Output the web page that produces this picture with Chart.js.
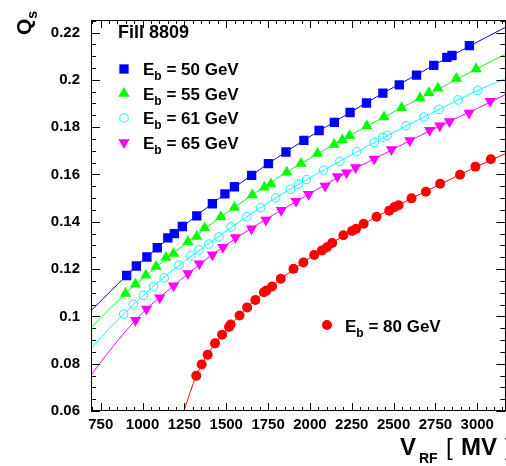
<!DOCTYPE html>
<html>
<head>
<meta charset="utf-8">
<script src="https://cdn.jsdelivr.net/npm/chart.js@4/dist/chart.umd.min.js"></script>
<style>
  html, body { margin: 0; padding: 0; background: #fff; overflow: hidden; }
  #wrap { width: 512px; height: 466px; }
  canvas { display: block; }
</style>
</head>
<body>
<div id="wrap"><canvas id="qsChart" width="512" height="466"></canvas></div>
<script>
// beam energies (GeV) for the five scans
const energies = [50, 55, 61, 65, 80];

// measured points: V_RF [MV] and Q_s
const v50  = [905, 963, 1026, 1088, 1151, 1190, 1238, 1324, 1417, 1492, 1549, 1652, 1752, 1857, 1964, 2055, 2146, 2240, 2338, 2436, 2534, 2637, 2740, 2818, 2849, 2953];
const qs50 = [0.1173, 0.1213, 0.1251, 0.1290, 0.1332, 0.1350, 0.1380, 0.1425, 0.1476, 0.1518, 0.1548, 0.1596, 0.1646, 0.1695, 0.1744, 0.1786, 0.1820, 0.1862, 0.1902, 0.1944, 0.1979, 0.2020, 0.2061, 0.2095, 0.2103, 0.2145];

const v55  = [898, 957, 1020, 1081, 1140, 1185, 1271, 1324, 1371, 1468, 1549, 1656, 1728, 1767, 1862, 1947, 2045, 2145, 2194, 2237, 2340, 2443, 2548, 2658, 2711, 2765, 2875, 2993];
const qs55 = [0.1097, 0.1136, 0.1174, 0.1211, 0.1249, 0.1266, 0.1315, 0.1338, 0.1374, 0.1421, 0.1460, 0.1513, 0.1546, 0.1560, 0.1609, 0.1646, 0.1689, 0.1727, 0.1746, 0.1764, 0.1805, 0.1843, 0.1882, 0.1923, 0.1945, 0.1964, 0.2006, 0.2046];

const v61  = [887, 945, 1005, 1065, 1129, 1218, 1287, 1337, 1395, 1457, 1529, 1623, 1706, 1795, 1883, 1931, 1980, 2082, 2179, 2278, 2384, 2436, 2462, 2574, 2682, 2771, 2886, 3003];
const qs61 = [0.1010, 0.1052, 0.1089, 0.1126, 0.1163, 0.1217, 0.1256, 0.1281, 0.1306, 0.1336, 0.1378, 0.1421, 0.1460, 0.1501, 0.1537, 0.1559, 0.1578, 0.1619, 0.1655, 0.1697, 0.1735, 0.1757, 0.1765, 0.1806, 0.1843, 0.1875, 0.1915, 0.1956];

const v65  = [958, 1024, 1103, 1185, 1271, 1339, 1417, 1480, 1555, 1651, 1737, 1829, 1917, 1992, 2091, 2164, 2219, 2273, 2384, 2487, 2597, 2715, 2776, 2834, 2951, 3077];
const qs65 = [0.0984, 0.1031, 0.1079, 0.1130, 0.1181, 0.1222, 0.1261, 0.1292, 0.1333, 0.1370, 0.1408, 0.1449, 0.1487, 0.1516, 0.1551, 0.1591, 0.1607, 0.1629, 0.1665, 0.1705, 0.1744, 0.1787, 0.1806, 0.1824, 0.1860, 0.1910];

const v80  = [1321, 1353, 1389, 1433, 1475, 1517, 1526, 1580, 1625, 1674, 1725, 1740, 1774, 1826, 1902, 1961, 2026, 2072, 2102, 2133, 2200, 2252, 2276, 2321, 2398, 2474, 2505, 2530, 2607, 2693, 2778, 2897, 2989, 3081];
const qs80 = [0.0749, 0.0797, 0.0838, 0.0886, 0.0922, 0.0955, 0.0966, 0.1004, 0.1038, 0.1069, 0.1102, 0.1109, 0.1126, 0.1159, 0.1201, 0.1228, 0.1260, 0.1279, 0.1292, 0.1310, 0.1343, 0.1361, 0.1370, 0.1392, 0.1421, 0.1447, 0.1462, 0.1470, 0.1499, 0.1527, 0.1561, 0.1599, 0.1633, 0.1664];

// fitted curves
const fitV  = [692, 800, 900, 1000, 1200, 1400, 1600, 1800, 2000, 2200, 2400, 2600, 2800, 3000, 3168];
const fit50 = [0.1024, 0.1100, 0.1170, 0.1235, 0.1357, 0.1468, 0.1571, 0.1669, 0.1760, 0.1845, 0.1929, 0.2007, 0.2085, 0.2160, 0.2222];
const fit55 = [0.0952, 0.1029, 0.1097, 0.1160, 0.1276, 0.1385, 0.1486, 0.1582, 0.1668, 0.1750, 0.1827, 0.1901, 0.1973, 0.2048, 0.2108];
const fit61 = [0.0864, 0.0948, 0.1018, 0.1086, 0.1206, 0.1310, 0.1410, 0.1503, 0.1586, 0.1664, 0.1741, 0.1814, 0.1885, 0.1955, 0.2005];
const fit65 = [0.0752, 0.0852, 0.0938, 0.1015, 0.1138, 0.1252, 0.1350, 0.1437, 0.1519, 0.1600, 0.1671, 0.1744, 0.1813, 0.1879, 0.1938];
const fitV80 = [1247, 1321, 1400, 1500, 1600, 1700, 1800, 1900, 2000, 2200, 2400, 2600, 2800, 3000, 3168];
const fit80  = [0.0600, 0.0749, 0.0852, 0.0942, 0.1019, 0.1086, 0.1143, 0.1198, 0.1248, 0.1341, 0.1422, 0.1496, 0.1566, 0.1634, 0.1688];

// axes
const xTicks = [750, 1000, 1250, 1500, 1750, 2000, 2250, 2500, 2750, 3000];
const yTicks = [0.06, 0.08, 0.1, 0.12, 0.14, 0.16, 0.18, 0.2, 0.22];
const xMinorStep = 50;
const yMinorStep = 0.005;

const FONT = '"Liberation Sans", Arial, Helvetica, sans-serif';

const series = [
    { e: 50, v: v50, q: qs50, fv: fitV,   fq: fit50, color: '#0000ff', style: 'rect',     r: 6.6, rot: 0,   open: false },
    { e: 55, v: v55, q: qs55, fv: fitV,   fq: fit55, color: '#00ff00', style: 'triangle', r: 6.5, rot: 0,   open: false },
    { e: 61, v: v61, q: qs61, fv: fitV,   fq: fit61, color: '#00ffff', style: 'circle',   r: 4.3, rot: 0,   open: true  },
    { e: 65, v: v65, q: qs65, fv: fitV,   fq: fit65, color: '#ff00ff', style: 'triangle', r: 6.5, rot: 180, open: false },
    { e: 80, v: v80, q: qs80, fv: fitV80, fq: fit80, color: '#ff0000', style: 'circle',   r: 5,   rot: 0,   open: false }
];

const toXY = (xs, ys) => xs.map((x, i) => ({ x: x, y: ys[i] }));

const pointSets = series.map(s => ({
    label: 'Eb = ' + s.e + ' GeV',
    data: toXY(s.v, s.q),
    showLine: false,
    pointStyle: s.style,
    pointRadius: s.r,
    pointRotation: s.rot,
    pointBackgroundColor: s.open ? 'rgba(0,0,0,0)' : s.color,
    pointBorderColor: s.color,
    pointBorderWidth: s.open ? 1 : 0
}));

const fitSets = series.map(s => ({
    label: 'fit ' + s.e,
    data: toXY(s.fv, s.fq),
    showLine: true,
    pointRadius: 0,
    borderColor: s.color,
    borderWidth: 1,
    cubicInterpolationMode: 'monotone'
}));

// draw text pieces; each piece may sit at its own x (p.x) or follow the previous one
function drawParts(ctx, x, y, parts) {
    let cx = x;
    parts.forEach(p => {
        ctx.font = (p.weight || 'bold') + ' ' + p.size + 'px ' + FONT;
        if (p.x !== undefined) cx = p.x;
        ctx.fillText(p.t, cx, y + (p.dy || 0));
        cx += ctx.measureText(p.t).width + (p.gap || 0);
    });
}

function ebText(e) {
    return [
        { t: 'E', size: 17 },
        { t: 'b', size: 12, dy: 5 },
        { t: ' = ' + e + ' GeV', size: 17 }
    ];
}

// ROOT style frame with inward ticks on all four sides
const frameTicks = {
    id: 'frameTicks',
    afterDatasetsDraw(chart) {
        const { ctx, chartArea: a, scales: { x, y } } = chart;
        ctx.save();
        ctx.strokeStyle = '#000';
        ctx.lineWidth = 1;
        ctx.strokeRect(Math.round(a.left) + 0.5, Math.round(a.top) + 0.5,
            Math.round(a.right - a.left), Math.round(a.bottom - a.top) - 1);
        ctx.beginPath();
        const x0 = Math.ceil(x.min / xMinorStep) * xMinorStep;
        for (let v = x0; v <= x.max; v += xMinorStep) {
            const px = Math.round(x.getPixelForValue(v)) + 0.5;
            const len = v % 250 === 0 ? 8 : 4;
            ctx.moveTo(px, a.bottom); ctx.lineTo(px, a.bottom - len);
            ctx.moveTo(px, a.top); ctx.lineTo(px, a.top + len);
        }
        const nY = Math.round((y.max - y.min) / yMinorStep);
        for (let i = 0; i <= nY; i++) {
            const v = y.min + i * yMinorStep;
            const py = Math.round(y.getPixelForValue(v)) + 0.5;
            const major = Math.abs(v / 0.02 - Math.round(v / 0.02)) < 1e-6;
            const len = major ? 9 : 5;
            ctx.moveTo(a.left, py); ctx.lineTo(a.left + len, py);
            ctx.moveTo(a.right, py); ctx.lineTo(a.right - len, py);
        }
        ctx.stroke();
        ctx.restore();
    },
    afterDraw(chart) {
        const ctx = chart.ctx;
        const drawPoint = Chart.helpers.drawPoint;
        ctx.save();
        ctx.fillStyle = '#000';
        ctx.textBaseline = 'alphabetic';
        ctx.textAlign = 'left';

        drawParts(ctx, 118, 38, [{ t: 'Fill 8809', size: 18 }]);

        // legend for the four upper scans
        const rows = [69, 93.5, 118, 142.5];
        series.slice(0, 4).forEach((s, i) => {
            ctx.fillStyle = s.open ? '#fff' : s.color;
            ctx.strokeStyle = s.color;
            ctx.lineWidth = 1;
            drawPoint(ctx, { pointStyle: s.style, radius: s.r, rotation: s.rot, borderWidth: s.open ? 1 : 0 }, 124, rows[i]);
            ctx.fillStyle = '#000';
            drawParts(ctx, 143, rows[i] + 6, ebText(s.e));
        });

        const red = series[4];
        ctx.fillStyle = red.color;
        drawPoint(ctx, { pointStyle: 'circle', radius: red.r, rotation: 0, borderWidth: 0 }, 327, 325);
        ctx.fillStyle = '#000';
        drawParts(ctx, 345, 331.5, ebText(red.e));

        // axis titles
        drawParts(ctx, 400, 455, [
            { t: 'V', size: 24, x: 400 },
            { t: 'RF', size: 14, dy: 8, x: 419 },
            { t: '[', size: 24, weight: 'normal', x: 446 },
            { t: 'MV', size: 24, x: 461 },
            { t: ']', size: 24, weight: 'normal', x: 505 }
        ]);

        ctx.translate(31, 35);
        ctx.rotate(-Math.PI / 2);
        drawParts(ctx, 0, 0, [
            { t: 'Q', size: 21 },
            { t: 's', size: 14, dy: 6 }
        ]);
        ctx.restore();
    }
};

const tickFont = { family: FONT, size: 15, weight: 'bold' };

new Chart(document.getElementById('qsChart'), {
    type: 'scatter',
    data: { datasets: pointSets.concat(fitSets) },
    options: {
        responsive: false,
        animation: false,
        layout: { padding: { top: 6, right: 5, left: 0, bottom: 0 } },
        plugins: { legend: { display: false }, tooltip: { enabled: false } },
        scales: {
            x: {
                type: 'linear',
                min: 692,
                max: 3168,
                grid: { display: false, drawTicks: false, tickLength: 0 },
                border: { display: false },
                afterBuildTicks: s => { s.ticks = xTicks.map(v => ({ value: v })); },
                afterFit: s => { s.height = 55; },
                ticks: { font: tickFont, color: '#000', padding: 5, maxRotation: 0, autoSkip: false, callback: v => String(v) }
            },
            y: {
                type: 'linear',
                min: 0.06,
                max: 0.2253,
                grid: { display: false, drawTicks: false, tickLength: 0 },
                border: { display: false },
                afterBuildTicks: s => { s.ticks = yTicks.map(v => ({ value: v })); },
                afterFit: s => { s.width = 91; },
                ticks: { font: tickFont, color: '#000', padding: 11, autoSkip: false, callback: v => String(v) }
            }
        }
    },
    plugins: [frameTicks]
});
</script>
</body>
</html>
